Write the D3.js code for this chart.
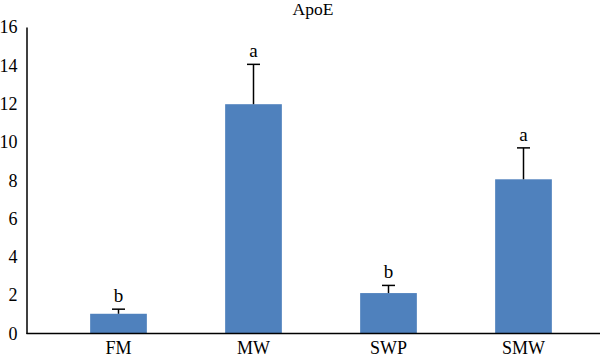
<!DOCTYPE html>
<html>
<head>
<meta charset="utf-8">
<script src="https://cdn.jsdelivr.net/npm/d3@7"></script>
<style>
  body { margin: 0; background: #fff; }
  text { font-family: "Liberation Serif", "DejaVu Serif", serif; fill: #000; }
</style>
</head>
<body>
<div class="chart"></div>
<script>
var svgWidth = 600;
var svgHeight = 358;

// chart data
var groups = ["FM", "MW", "SWP", "SMW"];
var means = [1.03, 11.97, 2.11, 8.05];
var errors = [0.24, 2.08, 0.40, 1.64];
var letters = ["b", "a", "b", "a"];
var yTicks = [0, 2, 4, 6, 8, 10, 12, 14, 16];
var title = "ApoE";

var svg = d3.select(".chart")
  .append("svg")
  .attr("width", svgWidth)
  .attr("height", svgHeight);

var axisX = 26.5;
var plotTop = 27;
var base = 333.5;

var xScale = d3.scaleBand()
  .domain(groups)
  .range([51, 591])
  .paddingInner(0.58)
  .paddingOuter(0.29);

var yScale = d3.scaleLinear()
  .domain([0, 16])
  .range([base, plotTop]);

// title
svg.append("text")
  .attr("x", 313)
  .attr("y", 15)
  .attr("text-anchor", "middle")
  .style("font-size", "17.5px")
  .text(title);

// bars
svg.selectAll("rect.bar")
  .data(groups)
  .enter()
  .append("rect")
  .attr("class", "bar")
  .attr("x", d => xScale(d))
  .attr("width", xScale.bandwidth())
  .attr("y", (d, i) => yScale(means[i]))
  .attr("height", (d, i) => base - yScale(means[i]))
  .attr("fill", "#4F81BD");

// error bars
var eb = svg.selectAll("g.err")
  .data(groups)
  .enter()
  .append("g")
  .attr("class", "err");

eb.append("line")
  .attr("x1", d => xScale(d) + xScale.bandwidth() / 2)
  .attr("x2", d => xScale(d) + xScale.bandwidth() / 2)
  .attr("y1", (d, i) => yScale(means[i]))
  .attr("y2", (d, i) => yScale(means[i] + errors[i]))
  .attr("stroke", "#000")
  .attr("stroke-width", 1.5);

eb.append("line")
  .attr("x1", d => xScale(d) + xScale.bandwidth() / 2 - 6.5)
  .attr("x2", d => xScale(d) + xScale.bandwidth() / 2 + 6.5)
  .attr("y1", (d, i) => yScale(means[i] + errors[i]))
  .attr("y2", (d, i) => yScale(means[i] + errors[i]))
  .attr("stroke", "#000")
  .attr("stroke-width", 1.5);

// significance letters
svg.selectAll("text.sig")
  .data(groups)
  .enter()
  .append("text")
  .attr("class", "sig")
  .attr("x", d => xScale(d) + xScale.bandwidth() / 2)
  .attr("y", (d, i) => yScale(means[i] + errors[i]) - 7)
  .attr("text-anchor", "middle")
  .style("font-size", "19px")
  .text((d, i) => letters[i]);

// y axis
var leftAxis = d3.axisLeft(yScale)
  .tickValues(yTicks)
  .tickSize(0)
  .tickPadding(9);

var yAxisG = svg.append("g")
  .attr("transform", `translate(${axisX}, 0)`)
  .call(leftAxis);
yAxisG.attr("font-family", null).attr("font-size", null);
yAxisG.select(".domain").attr("stroke", "#000").attr("stroke-width", 1.5);
yAxisG.selectAll("text")
  .style("font-family", "'Liberation Serif', serif")
  .style("font-size", "18px")
  .attr("fill", "#000");

// x axis
var bottomAxis = d3.axisBottom(xScale)
  .tickSize(0)
  .tickPadding(8);

var xAxisG = svg.append("g")
  .attr("transform", `translate(0, ${base})`)
  .call(bottomAxis);
xAxisG.attr("font-family", null).attr("font-size", null);
xAxisG.select(".domain").remove();
xAxisG.selectAll("text")
  .style("font-family", "'Liberation Serif', serif")
  .style("font-size", "18px")
  .attr("fill", "#000");

svg.append("line")
  .attr("x1", axisX)
  .attr("x2", 600)
  .attr("y1", base)
  .attr("y2", base)
  .attr("stroke", "#000")
  .attr("stroke-width", 1.5);
</script>
</body>
</html>
